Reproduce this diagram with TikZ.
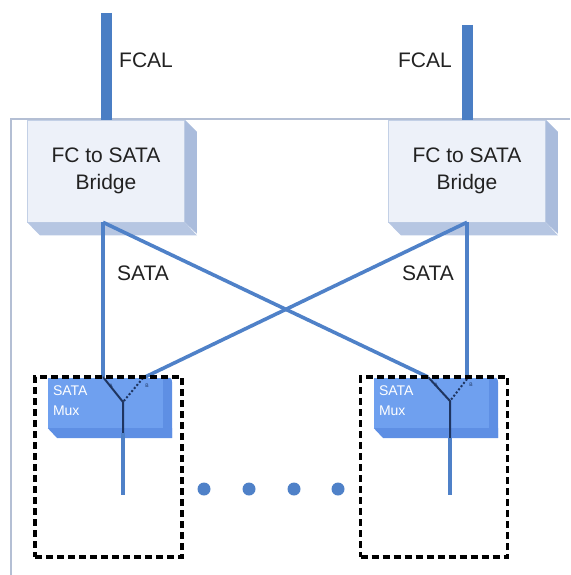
\documentclass[tikz,border=0pt]{standalone}
\usepackage{fontspec}
\setmainfont{Liberation Sans}
\definecolor{lineblue}{HTML}{4F81C8}
\definecolor{barblue}{HTML}{4A7EC4}
\definecolor{framecol}{HTML}{B4BFD4}
\definecolor{bfront}{HTML}{EDF1F9}
\definecolor{bside}{HTML}{AABCDC}
\definecolor{bbottom}{HTML}{B6C6E2}
\definecolor{mfront}{HTML}{6FA0EF}
\definecolor{mside}{HTML}{5E8FE4}
\definecolor{navy}{HTML}{1F3560}
\definecolor{txt}{HTML}{222222}
\begin{document}
\begin{tikzpicture}[x=1pt,y=-1pt,
  frame/.style={draw=framecol,line width=1.6pt},
  fcal/.style={draw=barblue,line width=11pt},
  sata/.style={draw=lineblue,line width=3.6pt},
  lbl/.style={font=\fontsize{21}{27}\selectfont,text=txt,inner sep=0pt},
  bridge/.style={fill=bfront,draw=bside!70,line width=0.6pt,minimum width=157pt,minimum height=102pt,
    align=center,font=\fontsize{21}{27}\selectfont,text=txt,inner sep=0pt},
  muxbox/.style={fill=mfront,minimum width=115pt,minimum height=50pt,inner sep=0pt},
  muxtext/.style={font=\fontsize{14}{20}\selectfont,text=white,align=left,inner sep=0pt,anchor=north west},
  sw/.style={draw=navy,line width=2pt},
  swdot/.style={draw=navy,line width=2pt,dash pattern=on 2pt off 2pt},
  tiny/.style={font=\fontsize{5}{5}\selectfont,text=navy,inner sep=0pt},
  dashbox/.style={draw=black,line width=3.4pt,dash pattern=on 7pt off 4pt,minimum width=147pt,minimum height=180pt,inner sep=0pt},
  dotn/.style={circle,fill=lineblue,minimum size=13pt,inner sep=0pt}]
\useasboundingbox (0,0) rectangle (570,575);
% outer frame
\draw[frame] (570,119) -- (11,119) -- (11,575);
% bridges
\foreach \n/\cx in {b1/106,b2/467}{
  \node[bridge] (\n) at (\cx,171) {FC to SATA\\Bridge};
  \fill[bside] (\n.north east) -- ++(12,12) -- ++(0,102) -- (\n.south east) -- cycle;
  \fill[bbottom] (\n.south west) -- (\n.south east) -- ++(12,13) -- ++(-157,0) -- cycle;
}
% FCAL bars
\coordinate (f1) at (106,13);
\coordinate (f2) at (467,25);
\draw[fcal] (f1) -- (b1.north);
\draw[fcal] (f2) -- (b2.north);
\node[lbl,anchor=base west] (fl1) at (119,68) {FCAL};
\node[lbl,anchor=base east] (fl2) at (452,68) {FCAL};
% mux boxes
\foreach \n/\cx in {m1/105.5,m2/431.5}{
  \node[muxbox] (\n) at (\cx,403) {};
  \fill[mside] (\n.north east) -- ++(6,0) to[out=0,in=90] ++(3,6) -- ++(0,54) -- (\n.south east) -- cycle;
  \fill[mside] (\n.south west) -- (\n.south east) -- ++(9,0) -- ++(0,10) -- ++(-115,0) -- cycle;
  \node[muxtext] (\n t) at ([xshift=5pt,yshift=-8pt]\n.north west) {SATA\\Mux};
}
% mux port coordinates
\coordinate (m1A) at (103,377);
\coordinate (m1B) at (143,378);
\coordinate (m1J) at (123,402);
\coordinate (m1O) at (123,433);
\coordinate (m1E) at (123,495);
\coordinate (m2A) at (428,377);
\coordinate (m2B) at (467,379);
\coordinate (m2J) at (450,401);
\coordinate (m2O) at (450,438);
\coordinate (m2E) at (450,495);
% SATA links
\draw[sata] (b1.south -| m1A) -- (m1A);
\draw[sata] (b1.south -| m1A) -- (m2A);
\draw[sata] (b2.south -| m2B) -- (m2B);
\draw[sata] (b2.south -| m2B) -- (m1B);
\node[lbl,anchor=base] (s1) at (143,280) {SATA};
\node[lbl,anchor=base] (s2) at (428,280) {SATA};
% switches
\draw[sw] (m1A) -- (m1J) -- (m1O);
\draw[swdot] (m1B) -- (m1J);
\draw[sata] (m1O) -- (m1E);
\draw[sw] (m2A) -- (m2J) -- (m2O);
\draw[swdot] (m2B) -- (m2J);
\draw[sata] (m2O) -- (m2E);
\node[tiny] (a1) at (111,386) {A};
\node[tiny] (c1) at (147,386) {B};
\node[tiny] (a2) at (436,385) {A};
\node[tiny] (c2) at (471,385) {B};
% dashed groups
\node[dashbox] (g1) at (108.5,467) {};
\node[dashbox] (g2) at (434,467) {};
% ellipsis dots
\node[dotn] (d1) at (204,489) {};
\node[dotn] (d2) at (249,489) {};
\node[dotn] (d3) at (294,489) {};
\node[dotn] (d4) at (338,489) {};
\end{tikzpicture}
\end{document}
